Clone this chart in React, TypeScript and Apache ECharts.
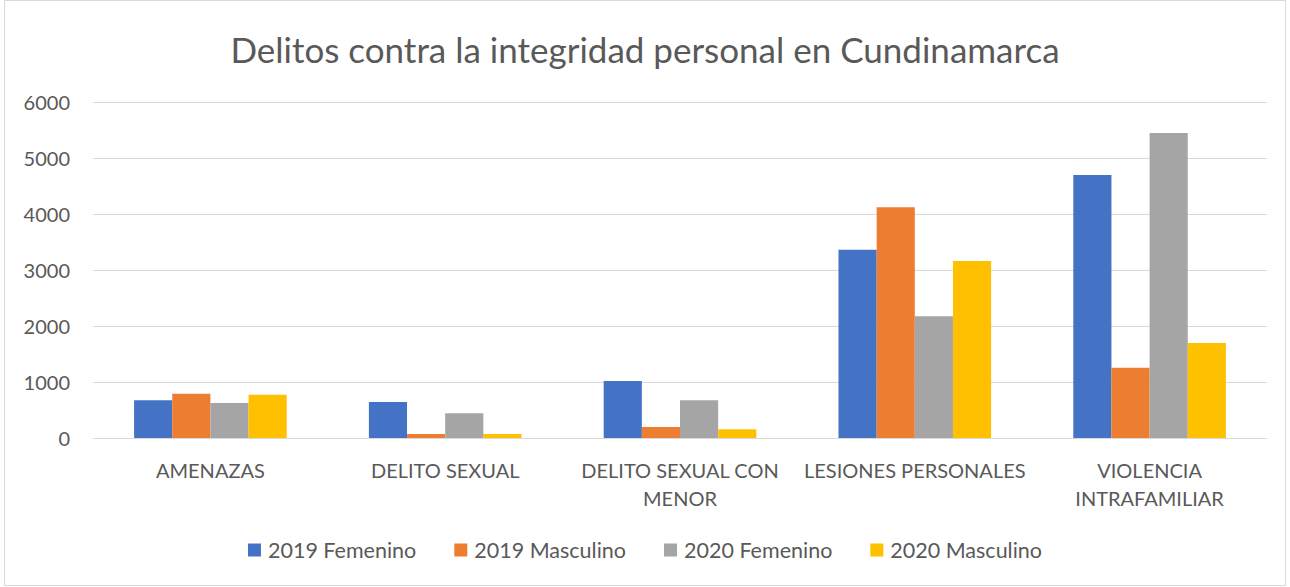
import React, { useEffect, useRef } from "react";
import * as echarts from "echarts";

const categories = [
  "AMENAZAS",
  "DELITO SEXUAL",
  "DELITO SEXUAL CON MENOR",
  "LESIONES PERSONALES",
  "VIOLENCIA INTRAFAMILIAR",
];
const categoryLabels = [
  "AMENAZAS",
  "DELITO SEXUAL",
  "DELITO SEXUAL CON\nMENOR",
  "LESIONES PERSONALES",
  "VIOLENCIA\nINTRAFAMILIAR",
];
const seriesNames = ["2019 Femenino", "2019 Masculino", "2020 Femenino", "2020 Masculino"];
const femenino2019 = [673, 643, 1018, 3363, 4696];
const masculino2019 = [791, 71, 196, 4119, 1256];
const femenino2020 = [625, 441, 673, 2173, 5446];
const masculino2020 = [773, 71, 155, 3161, 1696];
const colors = ["#4472C4", "#ED7D31", "#A5A5A5", "#FFC000"];

const FONT = "Lato";

export default function App() {
  const ref = useRef<HTMLDivElement>(null);
  useEffect(() => {
    if (!ref.current) return;
    const chart = echarts.init(ref.current, undefined, { renderer: "svg" });
    const values = [femenino2019, masculino2019, femenino2020, masculino2020];
    chart.setOption({
      animation: false,
      backgroundColor: "#ffffff",
      textStyle: { fontFamily: FONT },
      title: {
        text: "Delitos contra la integridad personal en Cundinamarca",
        left: "center",
        top: 26,
        textStyle: { fontFamily: FONT, fontSize: 35, fontWeight: "normal", color: "#595959" },
      },
      graphic: [
        {
          type: "rect",
          shape: { x: 4.5, y: 0.5, width: 1281, height: 585 },
          style: { fill: "none", stroke: "#d9d9d9", lineWidth: 1 },
          silent: true,
        },
      ],
      legend: {
        bottom: 21,
        left: "center",
        itemWidth: 13,
        itemHeight: 13,
        itemGap: 38,
        icon: "rect",
        textStyle: { fontFamily: FONT, fontSize: 21.5, color: "#595959", padding: [0, 0, 0, 2] },
        data: seriesNames,
      },
      grid: { left: 93, right: 23, top: 102, bottom: 149, containLabel: false },
      xAxis: {
        type: "category",
        data: categories,
        axisLine: { lineStyle: { color: "#d9d9d9", width: 1 } },
        axisTick: { show: false },
        axisLabel: {
          fontFamily: FONT,
          fontSize: 20,
          color: "#595959",
          margin: 18,
          lineHeight: 28,
          interval: 0,
          formatter: (v: string) => categoryLabels[categories.indexOf(v)] ?? v,
        },
      },
      yAxis: {
        type: "value",
        min: 0,
        max: 6000,
        interval: 1000,
        axisLine: { show: false },
        axisTick: { show: false },
        splitLine: { lineStyle: { color: "#d9d9d9", width: 1 } },
        axisLabel: {
          fontFamily: FONT,
          fontSize: 20,
          color: "#595959",
          margin: 23,
          formatter: (v: number) => String(v),
        },
      },
      series: seriesNames.map((name, i) => ({
        name,
        type: "bar",
        data: values[i],
        barGap: "0%",
        barCategoryGap: "35%",
        itemStyle: { color: colors[i] },
      })),
    });
    return () => chart.dispose();
  }, []);
  return (
    <div
      ref={ref}
      style={{ position: "absolute", left: 0, top: 0, width: 1290, height: 587 }}
    />
  );
}
